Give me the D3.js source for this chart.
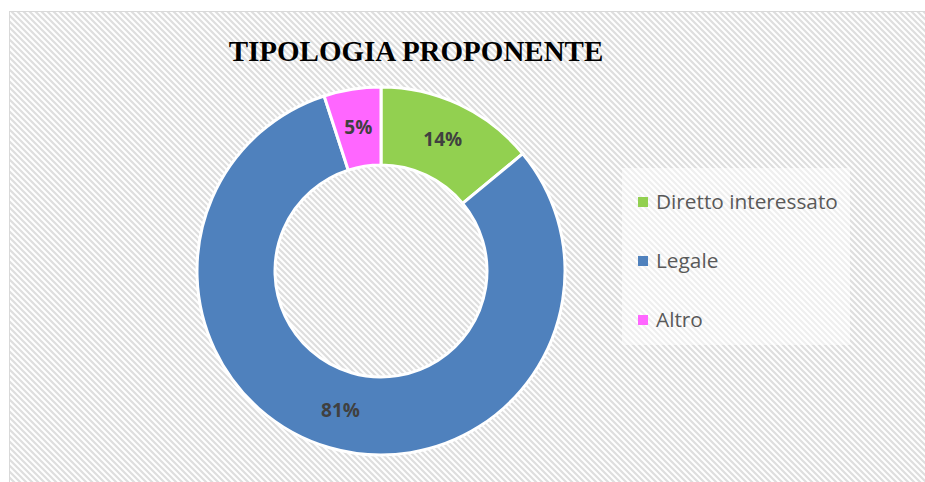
<!DOCTYPE html>
<html><head><meta charset="utf-8">
<script src="https://cdn.jsdelivr.net/npm/d3@7"></script>
<style>html,body{margin:0;padding:0;background:#fff;}svg{display:block;}</style>
</head><body>
<svg id="chart" width="925" height="482"></svg>
<script>
const title = "TIPOLOGIA PROPONENTE";
const categories = ["Diretto interessato", "Legale", "Altro"];
const values = [14, 81, 5];
const labels = ["14%", "81%", "5%"];
const colors = ["#92D050", "#4F81BD", "#FF66FF"];

const svg = d3.select("#chart");
const W = 925, H = 482;

const defs = svg.append("defs");
const pat = defs.append("pattern").attr("id", "stripes")
  .attr("patternUnits", "userSpaceOnUse").attr("width", 6).attr("height", 6);
pat.append("rect").attr("width", 6).attr("height", 6).attr("fill", "#ffffff");
pat.append("path").attr("d", "M-1,-1 L7,7 M-7,-1 L1,7 M5,-1 L13,7")
  .attr("stroke", "#dedede").attr("stroke-width", 2.2);

svg.append("rect").attr("x", 9.5).attr("y", 11.5).attr("width", W).attr("height", H)
  .attr("fill", "url(#stripes)").attr("stroke", "#d9d9d9").attr("stroke-width", 1);

svg.append("text").attr("x", 416).attr("y", 61).attr("text-anchor", "middle")
  .attr("font-family", "Liberation Serif, DejaVu Serif, serif").attr("font-weight", "bold")
  .attr("font-size", 29).attr("fill", "#000").text(title);

const cx = 381, cy = 271, rOuter = 184, rInner = 106;
const color = d3.scaleOrdinal().domain(categories).range(colors);
const pie = d3.pie().sort(null).value(d => d.v);
const data = categories.map((c, i) => ({ c, v: values[i], l: labels[i] }));
const arcs = pie(data);
const arc = d3.arc().innerRadius(rInner).outerRadius(rOuter);
const labelArc = d3.arc().innerRadius((rInner + rOuter) / 2).outerRadius((rInner + rOuter) / 2);

const g = svg.append("g").attr("transform", `translate(${cx},${cy})`);
g.selectAll("path").data(arcs).join("path")
  .attr("d", arc).attr("fill", d => color(d.data.c))
  .attr("stroke", "#fff").attr("stroke-width", 3).attr("stroke-linejoin", "miter");

g.selectAll("text").data(arcs).join("text")
  .attr("transform", d => `translate(${labelArc.centroid(d)})`)
  .attr("text-anchor", "middle").attr("dy", "0.35em")
  .attr("font-family", "Open Sans, Liberation Sans, sans-serif").attr("font-weight", "bold")
  .attr("font-size", 19).attr("fill", "#404040").text(d => d.data.l);

// legend
const leg = svg.append("g");
leg.append("rect").attr("x", 622).attr("y", 168).attr("width", 228).attr("height", 177)
  .attr("fill", "#ffffff").attr("opacity", 0.5);
const ly = d3.scalePoint().domain(categories).range([202, 320]);
const items = leg.selectAll("g.item").data(categories).join("g").attr("class", "item")
  .attr("transform", d => `translate(638,${ly(d)})`);
items.append("rect").attr("x", 0).attr("y", -5).attr("width", 10).attr("height", 10)
  .attr("fill", d => color(d));
items.append("text").attr("x", 18).attr("dy", "0.35em")
  .attr("font-family", "Open Sans, Liberation Sans, sans-serif").attr("font-size", 20.8)
  .attr("fill", "#595959").text(d => d);
</script>
</body></html>
